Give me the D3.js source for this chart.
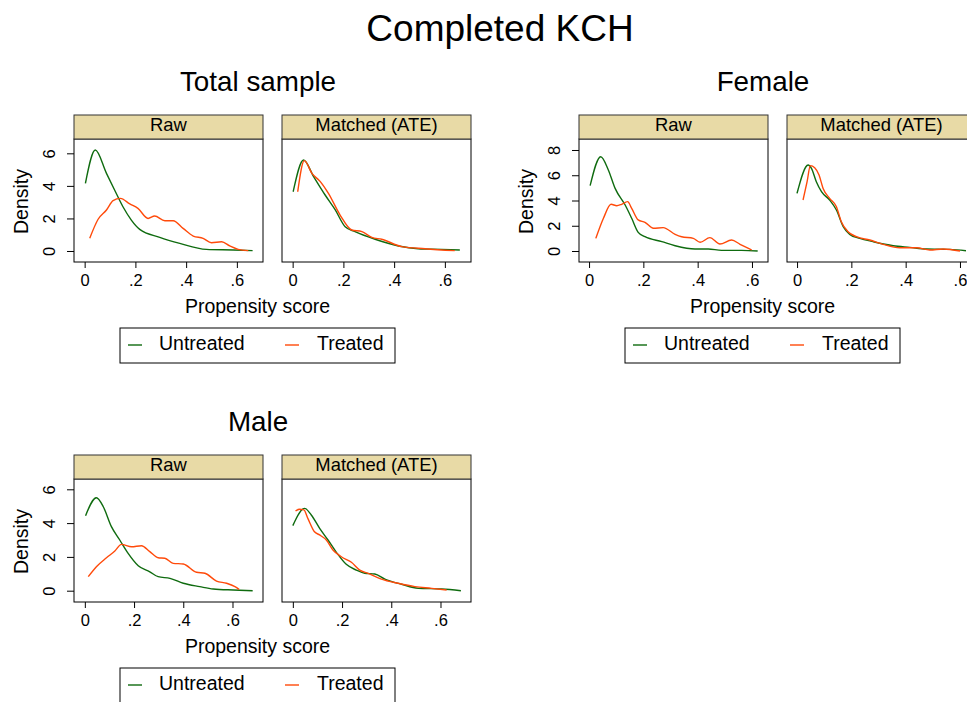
<!DOCTYPE html>
<html><head><meta charset="utf-8">
<script src="https://cdn.jsdelivr.net/npm/d3@7"></script>
<style>body{margin:0;background:#fff}svg{display:block;font-family:"Liberation Sans",Arial,sans-serif}</style>
</head><body><svg id="c" width="967" height="702"></svg>
<script>
// ---- data ----
const mainTitle = "Completed KCH";
const groupNames = ["Total sample", "Female", "Male"];
const panelNames = ["Raw", "Matched (ATE)"];
const seriesNames = ["Untreated", "Treated"];
const xTicks = [0, 0.2, 0.4, 0.6];
const xTickLabels = ["0", ".2", ".4", ".6"];
const yTicksTotal = [0, 2, 4, 6];
const yTicksFemale = [0, 2, 4, 6, 8];
const yTicksMale = [0, 2, 4, 6];
const xLabel = "Propensity score";
const yLabel = "Density";

const totalRawUntreated = [[0.003,4.16],[0.042,6.2],[0.086,4.77],[0.118,3.75],[0.151,2.72],[0.184,1.9],[0.217,1.33],[0.296,0.84],[0.375,0.47],[0.48,0.10],[0.586,0.06],[0.662,0.02]];
const totalRawTreated = [[0.02,0.78],[0.053,1.95],[0.086,2.52],[0.112,3.09],[0.141,3.23],[0.178,2.89],[0.21,2.62],[0.25,2.0],[0.276,2.15],[0.316,1.86],[0.349,1.86],[0.388,1.39],[0.428,0.92],[0.467,0.78],[0.5,0.51],[0.54,0.57],[0.572,0.31],[0.605,0.1],[0.645,0.02]];
const totalMatchedUntreated = [[0.002,3.64],[0.043,5.59],[0.083,4.56],[0.128,3.44],[0.168,2.52],[0.207,1.49],[0.246,1.19],[0.325,0.72],[0.417,0.31],[0.495,0.14],[0.587,0.1],[0.659,0.06]];
const totalMatchedTreated = [[0.02,3.64],[0.046,5.55],[0.076,4.77],[0.109,4.26],[0.141,3.54],[0.187,2.21],[0.233,1.29],[0.273,1.19],[0.312,0.84],[0.351,0.72],[0.43,0.27],[0.522,0.14],[0.639,0.02]];

const femaleRawUntreated = [[0.004,5.18],[0.043,7.47],[0.071,6.42],[0.096,4.96],[0.133,3.64],[0.157,2.59],[0.181,1.48],[0.206,1.13],[0.268,0.74],[0.317,0.42],[0.39,0.16],[0.439,0.16],[0.488,0.05],[0.562,0.05],[0.621,0.0]];
const femaleRawTreated = [[0.025,1.0],[0.053,2.59],[0.081,3.7],[0.102,3.59],[0.12,3.7],[0.142,3.91],[0.157,3.38],[0.181,2.46],[0.206,2.27],[0.237,1.8],[0.273,1.85],[0.317,1.32],[0.341,1.13],[0.384,1.0],[0.409,0.69],[0.445,1.06],[0.482,0.55],[0.525,0.87],[0.556,0.53],[0.599,0.08]];
const femaleMatchedUntreated = [[0.0,4.57],[0.041,6.81],[0.053,6.55],[0.071,5.49],[0.09,4.7],[0.12,4.04],[0.145,3.25],[0.17,1.93],[0.194,1.32],[0.231,1.0],[0.28,0.74],[0.354,0.42],[0.415,0.29],[0.477,0.16],[0.563,0.13],[0.622,0.02]];
const femaleMatchedTreated = [[0.022,4.04],[0.037,5.49],[0.049,6.76],[0.065,6.6],[0.081,6.02],[0.096,4.96],[0.12,4.17],[0.145,3.51],[0.163,2.32],[0.188,1.53],[0.219,1.13],[0.268,0.87],[0.317,0.53],[0.378,0.26],[0.44,0.26],[0.489,0.08],[0.538,0.16],[0.6,0.0]];

const maleRawUntreated = [[0.003,4.44],[0.047,5.5],[0.075,4.97],[0.108,3.79],[0.142,3.0],[0.176,2.21],[0.217,1.48],[0.264,1.12],[0.298,0.83],[0.346,0.73],[0.4,0.44],[0.467,0.24],[0.522,0.1],[0.603,0.04],[0.682,0.0]];
const maleRawTreated = [[0.014,0.83],[0.047,1.42],[0.088,1.95],[0.122,2.35],[0.149,2.74],[0.19,2.6],[0.23,2.66],[0.264,2.31],[0.298,1.95],[0.325,1.92],[0.359,1.62],[0.4,1.58],[0.454,1.09],[0.488,1.03],[0.535,0.57],[0.576,0.44],[0.61,0.24],[0.627,0.08]];
const maleMatchedUntreated = [[0.0,3.85],[0.048,4.87],[0.075,4.48],[0.109,3.69],[0.143,3.0],[0.177,2.27],[0.217,1.56],[0.258,1.22],[0.292,1.03],[0.333,0.99],[0.374,0.69],[0.442,0.38],[0.51,0.14],[0.605,0.1],[0.683,0.0]];
const maleMatchedTreated = [[0.011,4.72],[0.027,4.82],[0.045,4.78],[0.061,4.28],[0.088,3.49],[0.109,3.3],[0.136,3.0],[0.163,2.41],[0.197,2.01],[0.238,1.68],[0.272,1.22],[0.306,1.03],[0.36,0.69],[0.428,0.44],[0.496,0.24],[0.564,0.14],[0.625,0.04]];

// ---- layout / style ----
const colors = {"Untreated": "#0f6b0f", "Treated": "#ff4a0a"};
const stripFill = "#e8daa6";
const groups = [
  {name: groupNames[0], left: 74, top: 115, xDomain: [-0.042, 0.703], yDomain: [-0.676, 6.88], yTicks: yTicksTotal,
   panels: [[totalRawUntreated, totalRawTreated], [totalMatchedUntreated, totalMatchedTreated]]},
  {name: groupNames[1], left: 579, top: 115, xDomain: [-0.037, 0.659], yDomain: [-0.871, 8.871], yTicks: yTicksFemale,
   panels: [[femaleRawUntreated, femaleRawTreated], [femaleMatchedUntreated, femaleMatchedTreated]]},
  {name: groupNames[2], left: 74, top: 455, xDomain: [-0.044, 0.724], yDomain: [-0.669, 6.61], yTicks: yTicksMale,
   panels: [[maleRawUntreated, maleRawTreated], [maleMatchedUntreated, maleMatchedTreated]]}
];
const PW = 189, GAP = 19, SH = 24, PH = 123;

const svg = d3.select("#c");
svg.append("text").attr("x", 500).attr("y", 41).attr("text-anchor", "middle")
  .attr("font-size", 37).attr("fill", "#000").text(mainTitle);

groups.forEach(g => {
  const plotTop = g.top + SH, plotBottom = plotTop + PH;
  const G = svg.append("g");
  G.append("text").attr("x", g.left + 184).attr("y", g.top - 24).attr("text-anchor", "middle")
    .attr("font-size", 27.8).text(g.name);
  // y label
  G.append("text").attr("transform", `translate(${g.left - 46},${(plotTop + plotBottom) / 2 + 1}) rotate(-90)`)
    .attr("text-anchor", "middle").attr("font-size", 19.5).text(yLabel);
  const y = d3.scaleLinear().domain(g.yDomain).range([plotBottom, plotTop]);
  g.panels.forEach((series, i) => {
    const left = g.left + i * (PW + GAP);
    const x = d3.scaleLinear().domain(g.xDomain).range([left, left + PW]);
    // plot area
    G.append("rect").attr("x", left).attr("y", plotTop).attr("width", PW).attr("height", PH)
      .attr("fill", "#fff").attr("stroke", "#000").attr("stroke-width", 1);
    // strip
    G.append("rect").attr("x", left).attr("y", g.top).attr("width", PW).attr("height", SH)
      .attr("fill", stripFill).attr("stroke", "#333").attr("stroke-width", 1);
    G.append("text").attr("x", left + PW / 2).attr("y", g.top + 15.5).attr("text-anchor", "middle")
      .attr("font-size", 18.4).text(panelNames[i]);
    // x axis
    const xa = G.append("g").attr("transform", `translate(0,${plotBottom})`)
      .call(d3.axisBottom(x).tickValues(xTicks).tickFormat((d, k) => xTickLabels[k]).tickSize(6).tickSizeOuter(0));
    xa.select(".domain").remove();
    xa.selectAll("line").attr("stroke", "#000");
    xa.selectAll("text").attr("font-size", 16.5).attr("font-family", "Liberation Sans, Arial, sans-serif")
      .attr("fill", "#000").attr("y", 0).attr("dy", null).attr("transform", "translate(0,24)");
    if (i === 0) {
      const ya = G.append("g").attr("transform", `translate(${left},0)`)
        .call(d3.axisLeft(y).tickValues(g.yTicks).tickFormat(d3.format("d")).tickSize(7).tickSizeOuter(0));
      ya.select(".domain").remove();
      ya.selectAll("line").attr("stroke", "#000");
      ya.selectAll("text").attr("font-size", 16.5).attr("font-family", "Liberation Sans, Arial, sans-serif")
        .attr("fill", "#000").attr("x", null).attr("dy", null)
        .attr("text-anchor", "middle").attr("transform", "translate(-19,0) rotate(-90)");
    }
    const line = d3.line().x(d => x(d[0])).y(d => y(d[1])).curve(d3.curveMonotoneX);
    series.forEach((s, k) => {
      G.append("path").datum(s).attr("d", line).attr("fill", "none")
        .attr("stroke", colors[seriesNames[k]]).attr("stroke-width", 1.4);
    });
  });
  // x label
  G.append("text").attr("x", g.left + 183.5).attr("y", plotBottom + 51).attr("text-anchor", "middle")
    .attr("font-size", 19.5).text(xLabel);
  // legend
  const lx = g.left + 46, ly = plotBottom + 66;
  G.append("rect").attr("x", lx).attr("y", ly).attr("width", 275).attr("height", 35)
    .attr("fill", "#fff").attr("stroke", "#000").attr("stroke-width", 1);
  const legOff = [[8, 39], [165, 197]];
  seriesNames.forEach((nm, k) => {
    G.append("line").attr("x1", lx + legOff[k][0]).attr("x2", lx + legOff[k][0] + 14)
      .attr("y1", ly + 17).attr("y2", ly + 17).attr("stroke", colors[nm]).attr("stroke-width", 1.4);
    G.append("text").attr("x", lx + legOff[k][1]).attr("y", ly + 22).attr("font-size", 19.5).text(nm);
  });
});
</script></body></html>
